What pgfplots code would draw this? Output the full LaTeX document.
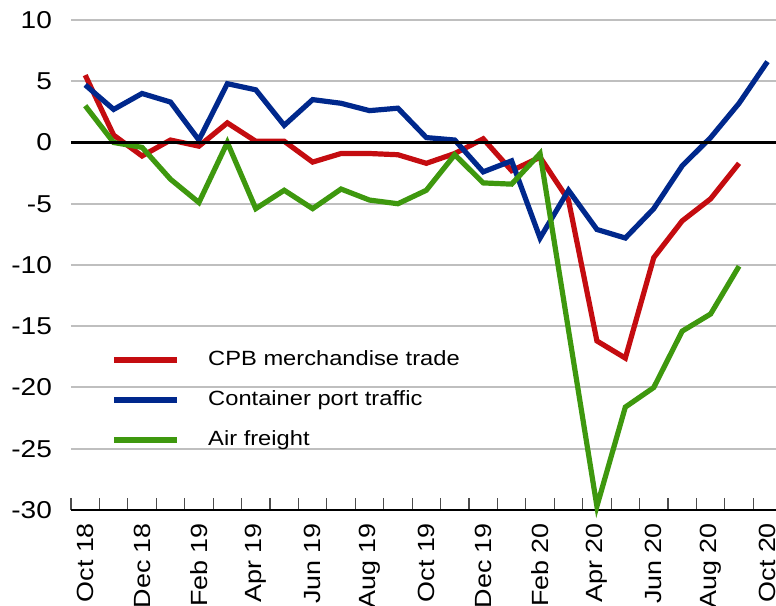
\documentclass[border=0pt]{standalone}
\usepackage{fontspec}
\setmainfont{Liberation Sans}[FakeStretch=1.15]
\usepackage{pgfplots}
\pgfplotsset{compat=1.18}
\usetikzlibrary{calc}

\definecolor{cpbred}{RGB}{196,12,16}
\definecolor{portblue}{RGB}{0,40,140}
\definecolor{airgreen}{RGB}{62,152,14}

\begin{document}
\begin{tikzpicture}
\begin{axis}[
    name=ax,
    scale only axis,
    width=352.5pt,
    height=245pt,
    xmin=-0.5, xmax=24.3,
    ymin=-30, ymax=10,
    ytick={-30,-25,...,10},
    xtick={0,2,...,24},
    xticklabels={Oct 18,Dec 18,Feb 19,Apr 19,Jun 19,Aug 19,Oct 19,Dec 19,Feb 20,Apr 20,Jun 20,Aug 20,Oct 20},
    minor xtick={-0.5,0.5,...,23.5},
    axis x line*=bottom,
    axis y line*=left,
    y axis line style={draw=none},
    x axis line style={black, line width=0.6pt, -},
    major tick length=0pt,
    minor tick length=6pt,
    tick align=inside,
    minor tick style={black!70, line width=0.6pt},
    ymajorgrids,
    grid style={black!25, line width=1pt},
    tick label style={font=\fontsize{11.7}{14}\selectfont},
    /pgf/number format/assume math mode=true,
    yticklabel style={xshift=-6pt, font=\fontsize{12.2}{14}\selectfont},
    xticklabel style={yshift=-3pt, rotate=90, anchor=east},
    clip=false,
    legend style={
        draw=none, fill=none,
        at={(rel axis cs:0.048,0.342)},
        anchor=north west,
        font=\fontsize{10.3}{12}\selectfont,
        row sep=7pt,
        /tikz/every even column/.append style={column sep=4pt},
        /tikz/every odd column/.append style={column sep=12pt},
    },
    legend cell align=left,
    legend image code/.code={\draw[#1, line width=3pt] (0pt,0pt) -- (31.5pt,0pt);},
]

\addplot[cpbred, line width=2.6pt] coordinates {
(0,5.5) (1,0.6) (2,-1.1) (3,0.2) (4,-0.3) (5,1.6) (6,0.1) (7,0.1)
(8,-1.6) (9,-0.9) (10,-0.9) (11,-1.0) (12,-1.7) (13,-0.9) (14,0.3)
(15,-2.3) (16,-1.2) (17,-4.7) (18,-16.2) (19,-17.6) (20,-9.4)
(21,-6.4) (22,-4.6) (23,-1.7)
};
\addlegendentry{CPB merchandise trade}

\addplot[portblue, line width=2.6pt] coordinates {
(0,4.7) (1,2.7) (2,4.0) (3,3.3) (4,0.2) (5,4.8) (6,4.3) (7,1.4)
(8,3.5) (9,3.2) (10,2.6) (11,2.8) (12,0.4) (13,0.2) (14,-2.4)
(15,-1.5) (16,-7.8) (17,-3.9) (18,-7.1) (19,-7.8) (20,-5.4)
(21,-1.9) (22,0.4) (23,3.2) (24,6.6)
};
\addlegendentry{Container port traffic}

\addplot[airgreen, line width=2.6pt] coordinates {
(0,3.0) (1,0.0) (2,-0.4) (3,-3.0) (4,-4.9) (5,0.0) (6,-5.4) (7,-3.9)
(8,-5.4) (9,-3.8) (10,-4.7) (11,-5.0) (12,-3.9) (13,-1.0) (14,-3.3)
(15,-3.4) (16,-0.9) (17,-15.3) (18,-29.7) (19,-21.6) (20,-20.0)
(21,-15.4) (22,-14.0) (23,-10.1)
};
\addlegendentry{Air freight}

\addplot[black, line width=1.5pt, forget plot] coordinates {(-0.5,0) (24.3,0)};

\end{axis}
\pgfresetboundingbox
\path[use as bounding box] ($(ax.south west)+(-35.5pt,-48pt)$) rectangle ($(ax.north east)+(0pt,10pt)$);
\end{tikzpicture}
\end{document}
